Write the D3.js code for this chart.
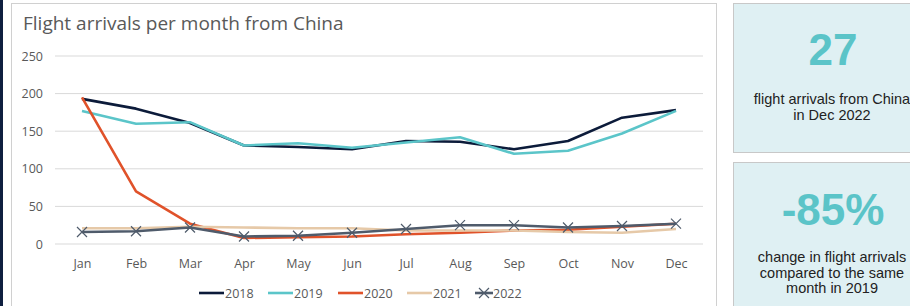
<!DOCTYPE html>
<html lang="en">
<head>
<meta charset="utf-8">
<title>Flight arrivals per month from China</title>
<script src="https://cdn.jsdelivr.net/npm/d3@7"></script>
<style>
body { margin: 0; background: #fff; }
svg { display: block; }
</style>
</head>
<body>
<script>
// data
var months = ["Jan","Feb","Mar","Apr","May","Jun","Jul","Aug","Sep","Oct","Nov","Dec"];
var years = ["2018","2019","2020","2021","2022"];
var v2018 = [193,180,161,131,129,126,137,136,126,137,168,178];
var v2019 = [177,160,162,131,134,128,135,142,120,124,147,177];
var v2020 = [195,70,27,8,9,10,13,15,18,19,23,27];
var v2021 = [21,21,23,22,21,21,18,18,18,16,15,20];
var v2022 = [16,17,22,10,11,15,20,25,25,22,24,27];
var yTicks = [0,50,100,150,200,250];
var colors = ["#0c1b3a","#5bc5c9","#e0522a","#e6c9a8","#4f5b6b"];

var series = [v2018, v2019, v2020, v2021, v2022];

var W = 910, H = 306;
var svg = d3.select("body").append("svg").attr("width", W).attr("height", H);

// left dark strip + chart frame
svg.append("rect").attr("x",0).attr("y",0).attr("width",3).attr("height",H).attr("fill","#0e1f3f");
svg.append("rect").attr("x",11.5).attr("y",3.5).attr("width",705).attr("height",H+10)
   .attr("fill","#fff").attr("stroke","#d0d0d0");

svg.append("text").attr("x",23).attr("y",30)
   .attr("font-family","Open Sans, sans-serif").attr("font-size",19).attr("fill","#595959")
   .text("Flight arrivals per month from China");

var x = d3.scalePoint().domain(months).range([82,676]);
var y = d3.scaleLinear().domain([0,250]).range([244,56]);

// grid
svg.append("g").selectAll("line").data(yTicks).join("line")
   .attr("x1",55).attr("x2",703)
   .attr("y1",d=>y(d)).attr("y2",d=>y(d))
   .attr("stroke","#d9d9d9").attr("stroke-width",1);

var yAxis = d3.axisLeft(y).tickValues(yTicks).tickSize(0).tickPadding(0);
svg.append("g").attr("transform","translate(43,0)").call(yAxis)
   .call(g=>g.select(".domain").remove())
   .selectAll("text").attr("font-family","Open Sans, sans-serif").attr("font-size",12.5).attr("fill","#595959");

var xAxis = d3.axisBottom(x).tickSize(0).tickPadding(0);
svg.append("g").attr("transform","translate(0,259)").call(xAxis)
   .call(g=>g.select(".domain").remove())
   .selectAll("text").attr("font-family","Open Sans, sans-serif").attr("font-size",12.5).attr("fill","#595959");

var line = d3.line().x((d,i)=>x(months[i])).y(d=>y(d));

svg.append("g").selectAll("path").data(series).join("path")
   .attr("d",line).attr("fill","none")
   .attr("stroke",(d,i)=>colors[i]).attr("stroke-width",2.6)
   .attr("stroke-linejoin","round");

// x markers on 2022
svg.append("g").selectAll("path").data(v2022).join("path")
   .attr("transform",(d,i)=>"translate("+x(months[i])+","+y(d)+")")
   .attr("d","M-5,-5L5,5M-5,5L5,-5")
   .attr("stroke","#4f5b6b").attr("stroke-width",1.2).attr("fill","none");

// legend
var legX = [199,268,338,407,475];
var leg = svg.append("g").selectAll("g").data(years).join("g")
   .attr("transform",(d,i)=>"translate("+legX[i]+",293)");
leg.append("line").attr("x1",0).attr("x2",(d,i)=>i==4?18:25).attr("y1",0).attr("y2",0)
   .attr("stroke",(d,i)=>colors[i]).attr("stroke-width",2.6);
leg.filter((d,i)=>i==4).append("path").attr("d","M4,-5L14,5M4,5L14,-5")
   .attr("stroke","#4f5b6b").attr("stroke-width",1.2);
leg.append("text").attr("x",(d,i)=>i==4?18:26).attr("y",4.5)
   .attr("font-family","Open Sans, sans-serif").attr("font-size",12.5).attr("fill","#595959")
   .text(d=>d);

// KPI boxes
var boxes = [
  {y:3.5, h:149, big:"27", bigY:65, lines:["flight arrivals from China","in Dec 2022"], lineY:104},
  {y:162.5, h:160, big:"-85%", bigY:225, lines:["change in flight arrivals","compared to the same","month in 2019"], lineY:262}
];
boxes.forEach(function(b){
  svg.append("rect").attr("x",733.5).attr("y",b.y).attr("width",200).attr("height",b.h)
     .attr("fill","#dff0f3").attr("stroke","#c8c8c8");
  svg.append("text").attr("x",833).attr("y",b.bigY).attr("text-anchor","middle")
     .attr("font-family","Liberation Sans, Arial, sans-serif").attr("font-weight","bold")
     .attr("font-size",44).attr("fill","#5bc4c8").text(b.big);
  b.lines.forEach(function(t,i){
    svg.append("text").attr("x",832).attr("y",b.lineY+i*15.5).attr("text-anchor","middle")
       .attr("font-family","Liberation Sans, Arial, sans-serif").attr("font-size",14.5)
       .attr("fill","#222").text(t);
  });
});
</script>
</body>
</html>
